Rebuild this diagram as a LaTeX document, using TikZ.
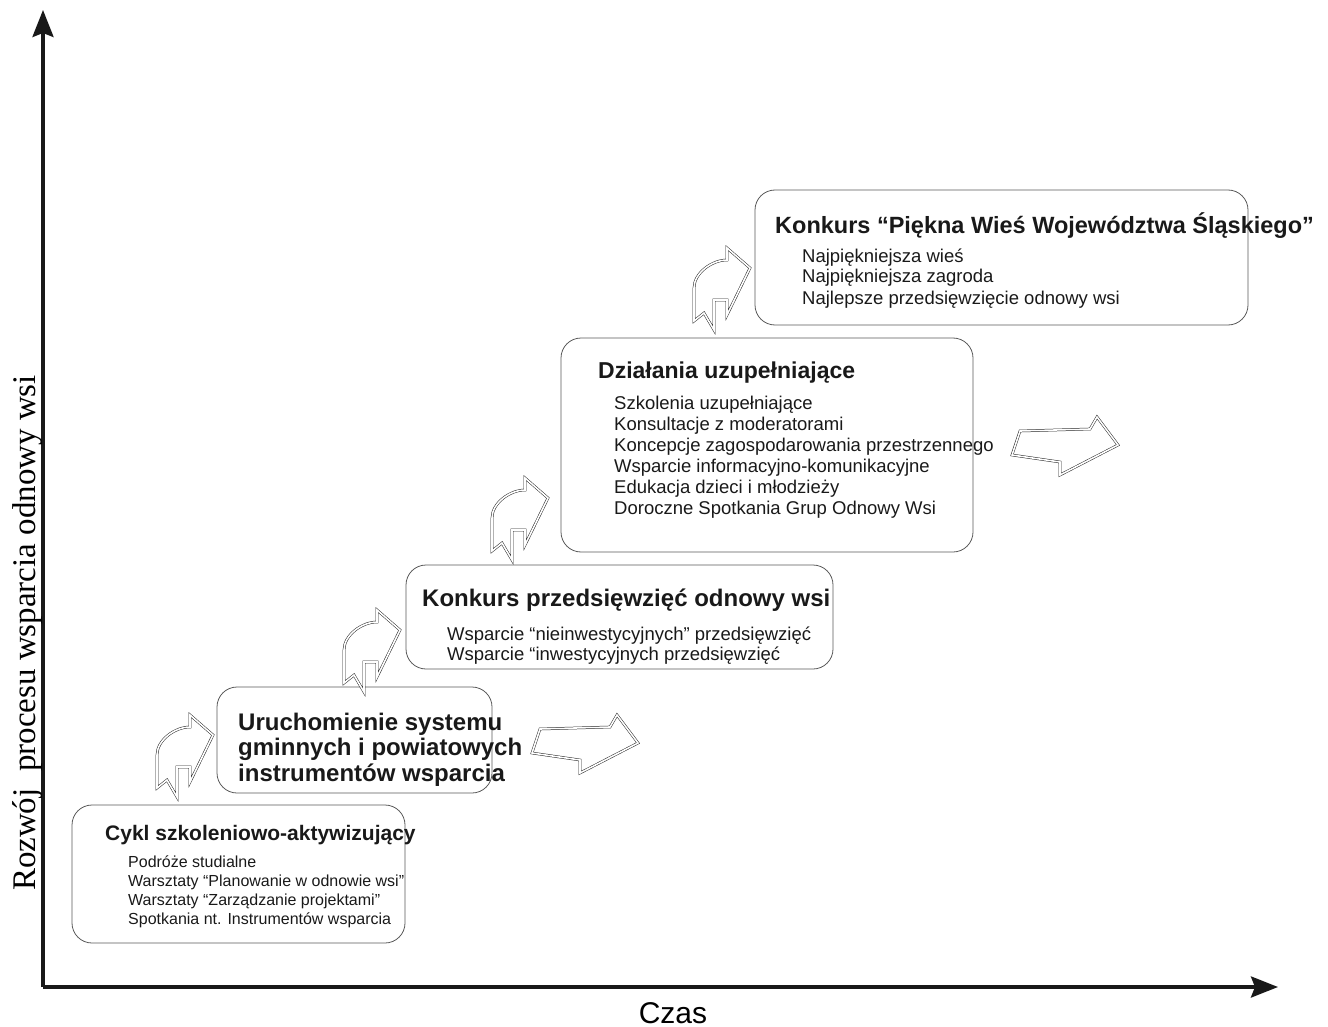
\documentclass[tikz,border=0pt]{standalone}
\usepackage{fontspec}
\setmainfont{Liberation Sans}
\newfontfamily\timesfont{Liberation Serif}
\usetikzlibrary{arrows.meta}
\tikzset{
  box/.style={draw=black!65, line width=0.8pt, rounded corners=20pt, inner sep=0pt},
  axis/.style={line width=3.5pt, draw=black!90, -{Stealth[length=27pt,width=21pt,inset=4pt]}},
  hollow/.style={draw=black!85, line width=0.5pt, double=white, double distance=1.6pt, line join=miter},
  title/.style={anchor=base west, inner sep=0pt, text=black!90, font=\fontsize{24}{26}\selectfont\bfseries},
  item/.style={anchor=base west, inner sep=0pt, text=black!90, font=\fontsize{18.5}{21}\selectfont},
  bentarrow/.pic={
    \draw[hollow] (2,83) -- (12,75) -- (22,92) -- (22,62) -- (35,62) -- (35,77) -- (58,30) -- (35,10) -- (35,22)
      .. controls (20,22) and (2,35) .. (2,50) -- cycle;
  },
  flatarrow/.pic={
    \draw[hollow] (20,17) -- (90,15) -- (97,3) -- (118,31) -- (60,61) -- (60,48) -- (12,41) -- cycle;
  }
}
\begin{document}
\begin{tikzpicture}[x=1pt,y=-1pt]
\useasboundingbox (0,0) rectangle (1328,1027);
% axes
\coordinate (O) at (43,987);
\coordinate (ytop) at (43,10);
\coordinate (xend) at (1278,987);
\draw[axis] (O) -- (ytop);
\draw[axis] (O) -- (xend);
\node[anchor=base, inner sep=0pt, font=\fontsize{30}{32}\selectfont] (czas) at (673,1023) {Czas};
\node[anchor=base, inner sep=0pt, rotate=90, font=\timesfont\fontsize{33}{35}\selectfont] (rozwoj) at (35,633) {Rozwój\ \ procesu wsparcia odnowy wsi};

% boxes
\node[box, minimum width=333pt, minimum height=138pt] (box1) at (238.5,874) {};
\node[box, minimum width=275pt, minimum height=106pt] (box2) at (354.5,740) {};
\node[box, minimum width=427pt, minimum height=104pt] (box3) at (619.5,617) {};
\node[box, minimum width=412pt, minimum height=214pt] (box4) at (767,445) {};
\node[box, minimum width=493pt, minimum height=135pt] (box5) at (1001.5,257.5) {};

% box 1
\node[title, font=\fontsize{21}{23}\selectfont\bfseries] (t1) at (105,840) {Cykl szkoleniowo-aktywizujący};
\foreach \t [count=\i from 0] in {Podróże studialne, Warsztaty “Planowanie w odnowie wsi”, Warsztaty “Zarządzanie projektami”, Spotkania nt. Instrumentów wsparcia}
  \node[item, font=\fontsize{16}{18}\selectfont] (a\i) at (128,{867+19*\i}) {\t};

% box 2
\foreach \t [count=\i from 0] in {Uruchomienie systemu, gminnych i powiatowych, instrumentów wsparcia}
  \node[title] (t2\i) at (238,{730+25.5*\i}) {\t};

% box 3
\node[title] (t3) at (422,606) {Konkurs przedsięwzięć odnowy wsi};
\foreach \t [count=\i from 0] in {Wsparcie “nieinwestycyjnych” przedsięwzięć, Wsparcie “inwestycyjnych przedsięwzięć}
  \node[item] (c\i) at (447,{640+20*\i}) {\t};

% box 4
\node[title, font=\fontsize{23}{25}\selectfont\bfseries] (t4) at (598,378) {Działania uzupełniające};
\foreach \t [count=\i from 0] in {Szkolenia uzupełniające, Konsultacje z moderatorami, Koncepcje zagospodarowania przestrzennego, Wsparcie informacyjno-komunikacyjne, Edukacja dzieci i młodzieży, Doroczne Spotkania Grup Odnowy Wsi}
  \node[item] (d\i) at (614,{409+21*\i}) {\t};

% box 5
\node[title, font=\fontsize{23.5}{25}\selectfont\bfseries] (t5) at (775,234) {Konkurs “Piękna Wieś Województwa Śląskiego”};
\foreach \t [count=\i from 0] in {Najpiękniejsza wieś, Najpiękniejsza zagroda, Najlepsze przedsięwzięcie odnowy wsi}
  \node[item] (e\i) at (802,{262+21*\i}) {\t};

% arrows
\pic (ba1) at (155,705) {bentarrow};
\pic (ba2) at (342,600) {bentarrow};
\pic (ba3) at (490,468) {bentarrow};
\pic (ba4) at (692,238) {bentarrow};
\pic (fa1) at (520,712) {flatarrow};
\pic (fa2) at (1000,414) {flatarrow};
\end{tikzpicture}
\end{document}
